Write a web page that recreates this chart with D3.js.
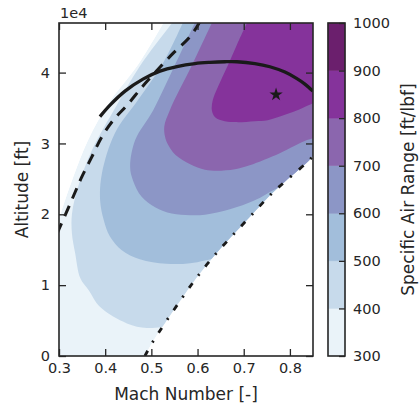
<!DOCTYPE html>
<html>
<head>
<meta charset="utf-8">
<script src="https://cdn.jsdelivr.net/npm/d3@7"></script>
<style>
  html, body { margin: 0; padding: 0; background: #fff; }
  svg { display: block; font-family: "DejaVu Sans", sans-serif; }
</style>
</head>
<body>
<svg id="chart" width="419" height="409"></svg>
<script>
// ---------- data ----------
const machTicks = [0.3, 0.4, 0.5, 0.6, 0.7, 0.8];
const altitudeTicks = [0, 10000, 20000, 30000, 40000];
const sarLevels = [300, 400, 500, 600, 700, 800, 900, 1000];
const sarColors = ["#eaf3f9", "#c7daeb", "#a2bedb", "#8c96c6", "#8b66ae", "#85339b", "#6b1f6d"];

// left edge of the computed envelope [Mach, ft]
const envelopeLeft = [[0.300,19400],[0.306,20600],[0.331,25300],[0.363,30500],[0.409,35800],[0.471,41100],[0.526,47000]];
// dash-dot limit line [Mach, ft]
const limitLine = [[0.486,0],[0.503,1980],[0.568,8330],[0.602,11400],[0.638,14300],[0.677,17100],[0.717,19900],[0.757,22700],[0.789,24600],[0.843,27700],[0.850,28300]];
// SAR contour lines [Mach, ft]
const contour400 = [[0.545,47000],[0.475,40900],[0.425,35400],[0.371,29000],[0.341,23800],[0.328,20000],[0.328,17300],[0.335,14500],[0.346,11000],[0.364,9300],[0.389,6900],[0.447,4600],[0.490,3950],[0.535,4150]];
const contour500 = [[0.568,47000],[0.523,41060],[0.471,36120],[0.421,31450],[0.393,25800],[0.389,22000],[0.397,19170],[0.410,16910],[0.436,14930],[0.475,13660],[0.532,13020],[0.584,13090],[0.644,13940],[0.660,14300]];
const contour600 = [[0.594,47000],[0.551,41060],[0.504,34700],[0.465,30470],[0.454,26700],[0.460,24820],[0.479,22460],[0.508,21000],[0.544,20110],[0.584,19870],[0.616,19940],[0.670,20720],[0.724,21990],[0.768,23550],[0.800,24500]];
const contour700 = [[0.631,47000],[0.588,41060],[0.540,34700],[0.528,32400],[0.531,30600],[0.541,29300],[0.553,28350],[0.584,27080],[0.616,26300],[0.642,26160],[0.681,26370],[0.713,26930],[0.778,28630],[0.837,30470],[0.860,30900]];
const contour800 = [[0.707,47000],[0.685,43880],[0.666,41060],[0.644,37950],[0.633,36120],[0.631,34700],[0.638,33710],[0.659,33150],[0.685,33010],[0.724,33150],[0.752,33290],[0.800,34280],[0.850,35690],[0.860,36000]];
const sarContours = [contour400, contour500, contour600, contour700, contour800];
// solid curve [Mach, ft]
const solidCurve = [[0.3887,33790],[0.4104,35410],[0.4429,37390],[0.4818,39080],[0.5186,40210],[0.5554,40850],[0.5944,41270],[0.6268,41440],[0.6593,41530],[0.6853,41530],[0.7242,41270],[0.7567,40820],[0.7892,40070],[0.8152,39150],[0.8325,38380],[0.8498,37390]];
// dashed curve [Mach, ft]
const dashedCurve = [[0.296,17300],[0.300,17900],[0.3275,21990],[0.3491,25240],[0.3708,28060],[0.3924,30890],[0.4175,33290],[0.4494,35550],[0.4797,37950],[0.5100,40140],[0.5468,42710],[0.5835,45060],[0.6030,46950],[0.606,47400]];
// optimum point (star)
const optimum = [0.77, 36900];

// ---------- layout ----------
const svg = d3.select("#chart");
const P = { left: 59, right: 313, top: 23, bottom: 356 };
const CB = { left: 328, right: 345 };
const ink = "#262626";

const x = d3.scaleLinear().domain([0.3, 0.85]).range([P.left, P.right]);
const y = d3.scaleLinear().domain([0, 47000]).range([P.bottom, P.top]);
const c = d3.scaleLinear().domain([300, 1000]).range([P.bottom, P.top]);

svg.append("rect").attr("width", 419).attr("height", 409).attr("fill", "#fff");

const defs = svg.append("defs");
defs.append("clipPath").attr("id", "plotClip")
  .append("rect").attr("x", P.left).attr("y", P.top)
  .attr("width", P.right - P.left).attr("height", P.bottom - P.top);

const smooth = d3.line().x(d => x(d[0])).y(d => y(d[1])).curve(d3.curveCatmullRom.alpha(0.5));
const cont = pts => smooth(pts).replace(/^M/, "L");
const pt = (m, a) => "L" + x(m) + "," + y(a);

// envelope (domain of data)
const envelopeD = "M" + x(0.3) + "," + y(0) + cont(envelopeLeft) +
  pt(0.535, 48000) + pt(0.86, 48000) + pt(0.86, 28300) +
  cont(limitLine.slice().reverse()) + "Z";
defs.append("clipPath").attr("id", "envClip").append("path").attr("d", envelopeD);

const plotG = svg.append("g").attr("clip-path", "url(#plotClip)");
const envG = plotG.append("g").attr("clip-path", "url(#envClip)");

envG.append("path").attr("d", envelopeD).attr("fill", sarColors[0]);
sarContours.forEach((pts, i) => {
  const last = pts[pts.length - 1];
  const d = smooth(pts) + pt(1.0, last[1]) + pt(1.0, 50000) + pt(pts[0][0], 50000) + "Z";
  envG.append("path").attr("d", d).attr("fill", sarColors[i + 1]);
});

// lines
const lineG = plotG.append("g").attr("fill", "none").attr("stroke", "#1a1a1a");
lineG.append("path").attr("d", smooth(limitLine))
  .attr("stroke-width", 2.8).attr("stroke-dasharray", "6,9.5,2,9.5");
lineG.append("path").attr("d", smooth(dashedCurve))
  .attr("stroke-width", 3).attr("stroke-dasharray", "11,8");
lineG.append("path").attr("d", smooth(solidCurve))
  .attr("stroke-width", 3.3);

svg.append("path")
  .attr("d", d3.symbol(d3.symbolStar, 55)())
  .attr("transform", `translate(${x(optimum[0])},${y(optimum[1])})`)
  .attr("fill", "#1a1a1a");

// ---------- axes ----------
function styleAxis(g) {
  g.select(".domain").remove();
  g.selectAll(".tick line").attr("stroke", ink).attr("stroke-width", 1.3);
  g.selectAll(".tick text").attr("fill", ink).attr("font-size", "14.5px")
    .attr("font-family", "DejaVu Sans, sans-serif");
}
svg.append("g").attr("transform", `translate(0,${P.bottom})`)
  .call(d3.axisBottom(x).tickValues(machTicks).tickFormat(d3.format(".1f"))
    .tickSizeInner(-7).tickSizeOuter(0).tickPadding(7))
  .call(styleAxis);
svg.append("g").attr("transform", `translate(0,${P.top})`)
  .call(d3.axisTop(x).tickValues(machTicks).tickFormat("")
    .tickSizeInner(-7).tickSizeOuter(0))
  .call(styleAxis);
svg.append("g").attr("transform", `translate(${P.left},0)`)
  .call(d3.axisLeft(y).tickValues(altitudeTicks).tickFormat(d => d / 10000)
    .tickSizeInner(-7).tickSizeOuter(0).tickPadding(9))
  .call(styleAxis);
svg.append("g").attr("transform", `translate(${P.right},0)`)
  .call(d3.axisRight(y).tickValues(altitudeTicks).tickFormat("")
    .tickSizeInner(-7).tickSizeOuter(0))
  .call(styleAxis);

svg.append("rect").attr("x", P.left).attr("y", P.top)
  .attr("width", P.right - P.left).attr("height", P.bottom - P.top)
  .attr("fill", "none").attr("stroke", ink).attr("stroke-width", 1.6);

svg.append("text").attr("x", P.left + 1).attr("y", 17.5)
  .attr("fill", ink).attr("font-size", "14.5px").text("1e4");

svg.append("text").attr("x", (P.left + P.right) / 2).attr("y", 400)
  .attr("text-anchor", "middle").attr("fill", ink).attr("font-size", "17px")
  .text("Mach Number [-]");
svg.append("text")
  .attr("transform", `translate(28,${(P.top + P.bottom) / 2}) rotate(-90)`)
  .attr("text-anchor", "middle").attr("fill", ink).attr("font-size", "17px")
  .text("Altitude [ft]");

// ---------- colorbar ----------
const cbG = svg.append("g");
sarColors.forEach((col, i) => {
  cbG.append("rect").attr("x", CB.left).attr("width", CB.right - CB.left)
    .attr("y", c(sarLevels[i + 1])).attr("height", c(sarLevels[i]) - c(sarLevels[i + 1]))
    .attr("fill", col).attr("stroke", col).attr("stroke-width", 0.5);
});
svg.append("g").attr("transform", `translate(${CB.right},0)`)
  .call(d3.axisRight(c).tickValues(sarLevels).tickFormat(d3.format("d"))
    .tickSizeInner(-6).tickSizeOuter(0).tickPadding(8))
  .call(styleAxis);
svg.append("rect").attr("x", CB.left).attr("y", P.top)
  .attr("width", CB.right - CB.left).attr("height", P.bottom - P.top)
  .attr("fill", "none").attr("stroke", ink).attr("stroke-width", 1.6);
svg.append("text")
  .attr("transform", `translate(414,${(P.top + P.bottom) / 2}) rotate(-90)`)
  .attr("text-anchor", "middle").attr("fill", ink).attr("font-size", "17px")
  .text("Specific Air Range [ft/lbf]");
</script>
</body>
</html>
